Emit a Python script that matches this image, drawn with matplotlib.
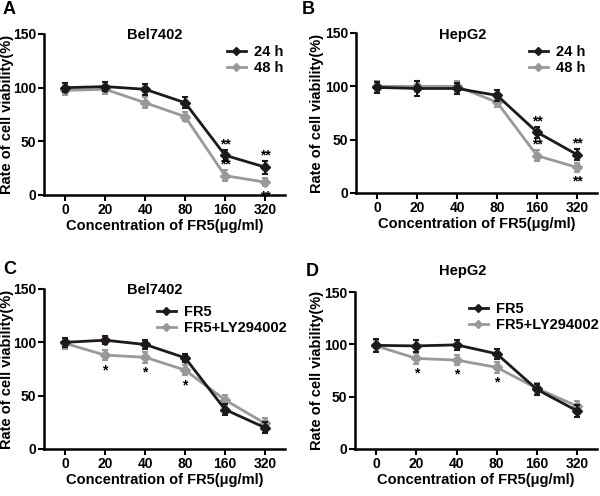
import matplotlib
matplotlib.use("Agg")
import matplotlib.pyplot as plt
from matplotlib.lines import Line2D
from matplotlib.transforms import blended_transform_factory
import numpy as np

plt.rcParams['font.family'] = ['Liberation Sans', 'DejaVu Sans']
plt.rcParams['font.weight'] = 'bold'

# Data
conc_labels = ["0", "20", "40", "80", "160", "320"]

a_24h = [100, 101, 98.5, 86, 37, 26]
a_24h_err = [4, 4, 5, 5, 5, 6]
a_48h = [97.5, 98.5, 86, 73, 18, 12]
a_48h_err = [4, 4, 5, 4, 5, 4]

b_24h = [99, 98, 98, 91.5, 57, 36]
b_24h_err = [5, 7, 5, 5, 5, 5]
b_48h = [100, 100, 100, 85, 35, 24]
b_48h_err = [5, 5, 5, 4, 5, 4]

c_fr5 = [100, 102, 98, 85.5, 37, 20]
c_fr5_err = [4, 4, 4, 4, 5, 5]
c_ly = [99, 88, 86, 74, 46, 24]
c_ly_err = [5, 5, 5, 5, 5, 5]

d_fr5 = [99, 98.5, 99.5, 91, 57, 36.5]
d_fr5_err = [6, 6, 5, 5, 5, 6]
d_ly = [98.5, 86.5, 85, 78, 58, 41]
d_ly_err = [6, 5, 5, 5, 5, 5]

DARK = "#1e1a1a"
GRAY = "#999999"
W, H = 600, 496

fig = plt.figure(figsize=(W / 100, H / 100), dpi=100)

# layout in pixels: left, top, right, bottom of axes; ylabel right edge;
# title centre; legend top-left; panel letter position
layout = {
    "A": dict(box=(44, 34, 285, 195), ylab=14, title=(155, 35), leg=(227, 45), letter=(3, 10)),
    "B": dict(box=(356, 33, 597, 193), ylab=324, title=(463, 35), leg=(529, 45), letter=(302, 10)),
    "C": dict(box=(44, 289, 285, 449), ylab=14, title=(155, 290), leg=(157, 305), letter=(3, 269)),
    "D": dict(box=(355, 292, 597, 449), ylab=324, title=(463, 271), leg=(469, 302), letter=(306, 271)),
}

panels = [
    ("A", "Bel7402", a_24h, a_24h_err, a_48h, a_48h_err, ("24 h", "48 h")),
    ("B", "HepG2", b_24h, b_24h_err, b_48h, b_48h_err, ("24 h", "48 h")),
    ("C", "Bel7402", c_fr5, c_fr5_err, c_ly, c_ly_err, ("FR5", "FR5+LY294002")),
    ("D", "HepG2", d_fr5, d_fr5_err, d_ly, d_ly_err, ("FR5", "FR5+LY294002")),
]

x = np.arange(len(conc_labels))


def star(ax, xi, y, s, above):
    # asterisks sit high in the text box, so place by baseline
    base = y + 1.5 if above else y - 13
    ax.text(xi, base, s, ha="center", va="baseline", fontsize=10, zorder=6)


for tag, title, y1, e1, y2, e2, names in panels:
    lay = layout[tag]
    l, t, r, b = lay["box"]
    ax = fig.add_axes([l / W, 1 - b / H, (r - l) / W, (b - t) / H])
    ax.errorbar(x, y2, yerr=e2, color=GRAY, marker="D", markersize=5.5,
                linewidth=2, elinewidth=1.5, capsize=2.5, capthick=1.5,
                zorder=2)
    ax.errorbar(x, y1, yerr=e1, color=DARK, marker="D", markersize=5.5,
                linewidth=2, elinewidth=1.5, capsize=2.5, capthick=1.5,
                zorder=3)
    ax.set_xlim(-0.53, 5.5)
    ax.set_ylim(0, 150)
    ax.set_yticks([0, 50, 100, 150])
    ax.set_xticks(x)
    ax.set_xticklabels(conc_labels)
    for s in ["top", "right"]:
        ax.spines[s].set_visible(False)
    for s in ["left", "bottom"]:
        ax.spines[s].set_linewidth(1.8)
    ax.tick_params(width=1.5, length=4, labelsize=10, pad=1.5)
    ax.set_ylabel("Rate of cell viability(%)", fontsize=10.5, fontweight="bold")
    ax.yaxis.set_label_coords(lay["ylab"] / W, 0.5,
                              transform=blended_transform_factory(fig.transFigure, ax.transAxes))
    ax.set_xlabel("Concentration of FR5(\u03bcg/ml)", fontsize=10.5, fontweight="bold", labelpad=2)
    fig.text(lay["title"][0] / W, 1 - lay["title"][1] / H, title, ha="center", va="center",
             fontsize=10.5, fontweight="bold")
    handles = [
        Line2D([], [], color=DARK, marker="D", markersize=4, linewidth=2),
        Line2D([], [], color=GRAY, marker="D", markersize=4, linewidth=2),
    ]
    fig.legend(handles, names, loc="upper left",
               bbox_to_anchor=(lay["leg"][0] / W, 1 - lay["leg"][1] / H), frameon=False,
               fontsize=10.5, handlelength=1.3, handletextpad=0.55, labelspacing=0.15,
               borderaxespad=0, borderpad=0)
    # significance marks
    if tag in ("A", "B"):
        for i in (4, 5):
            star(ax, i, y1[i] + e1[i], "**", True)
        star(ax, 4, y2[4] + e2[4], "**", True)
        star(ax, 5, y2[5] - e2[5], "**", False)
    else:
        for i in (1, 2, 3):
            star(ax, i, y2[i] - e2[i], "*", False)
    fig.text(lay["letter"][0] / W, 1 - lay["letter"][1] / H, tag, fontsize=13,
             fontweight="bold", ha="left", va="center")

fig.savefig("out.png", dpi=100)
